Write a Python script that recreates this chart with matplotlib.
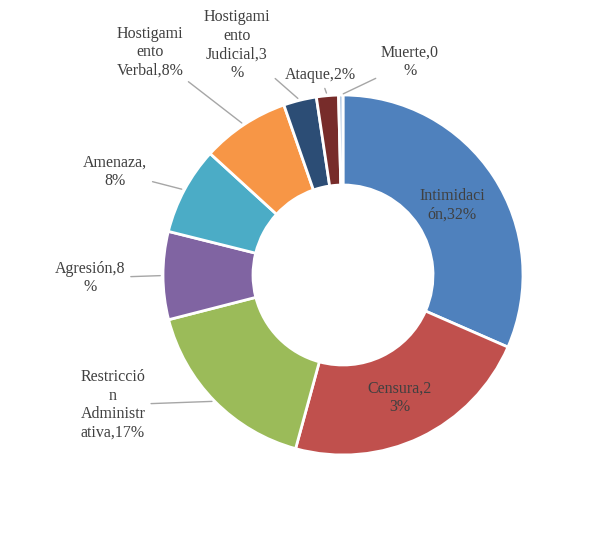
import numpy as np
import matplotlib.pyplot as plt

plt.rcParams['font.family'] = ['Liberation Serif', 'DejaVu Serif']

labels = ["Intimidaci\nón,32%", "Censura,2\n3%", "Restricció\nn\nAdministr\nativa,17%",
          "Agresión,8\n%", "Amenaza,\n8%", "Hostigami\nento\nVerbal,8%",
          "Hostigami\nento\nJudicial,3\n%", "Ataque,2%", "Muerte,0\n%"]
values = [32, 23, 17, 8, 8, 8, 3, 2, 0.4]
colors = ["#4F81BD", "#C0504D", "#9BBB59", "#8064A2", "#4BACC6",
          "#F79646", "#2C4D75", "#772C2A", "#B9CDE5"]
# label centres in pixels of the reference
label_px = [(452, 205), (400, 398), (113, 405), (90, 278), (115, 172),
            (150, 52), (237, 45), (320, 75), (410, 62)]
inside = [True, True, False, False, False, False, False, False, False]

fig = plt.figure(figsize=(6, 5.39), dpi=100)
cx, cy, R = 343, 275, 180
ax = fig.add_axes([(cx - R) / 600, (539 - cy - R) / 539, 2 * R / 600, 2 * R / 539])
wedges, _ = ax.pie(values, colors=colors, startangle=90, counterclock=False,
                   wedgeprops=dict(width=0.5, edgecolor='white', linewidth=2))
ax.set_xlim(-1, 1)
ax.set_ylim(-1, 1)
ax.set_aspect('auto')

for w, lab, (px, py), ins in zip(wedges, labels, label_px, inside):
    tx, ty = (px - cx) / R, (cy - py) / R
    if ins:
        ax.text(tx, ty, lab, ha='center', va='center', fontsize=11.5, color='#404040')
    else:
        a = np.deg2rad((w.theta1 + w.theta2) / 2)
        ax.annotate(lab, xy=(np.cos(a), np.sin(a)), xytext=(tx, ty),
                    ha='center', va='center', fontsize=11.5, color='#404040',
                    annotation_clip=False,
                    arrowprops=dict(arrowstyle='-', color='#A6A6A6', lw=1))

fig.savefig('out.png')
